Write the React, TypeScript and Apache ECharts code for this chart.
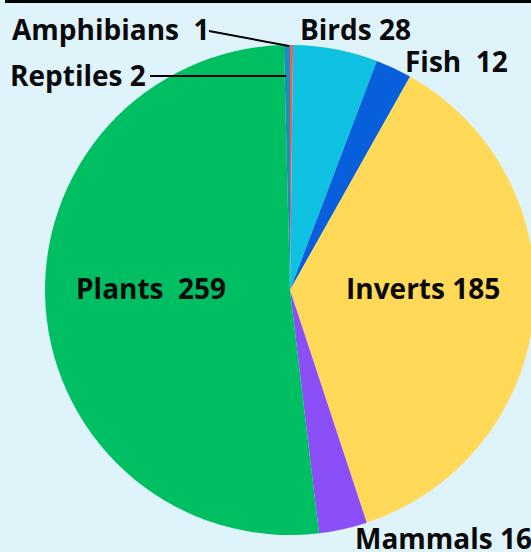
import React, { useEffect, useRef } from "react";
import * as echarts from "echarts";

const categories = ["Amphibians", "Birds", "Fish", "Inverts", "Mammals", "Plants", "Reptiles"];
const counts = [1, 28, 12, 185, 16, 259, 2];
const sliceColors = ["#f4575c", "#0fc1e1", "#075fdb", "#ffd957", "#8b4ffa", "#00bf63", "#1890b3"];
const nameValueGaps = ["  ", " ", "  ", " ", " ", "  ", " "];

// label placement (left edge x, vertical middle y) and leader lines
const labelSpots: { x: number; y: number }[] = [
  { x: 12, y: 29 },
  { x: 300, y: 29 },
  { x: 405, y: 61 },
  { x: 346, y: 288 },
  { x: 355, y: 538 },
  { x: 76, y: 288 },
  { x: 10, y: 75 },
];
const leaderLines: number[][][] = [
  [[209, 31], [289, 46]],
  [[150, 76], [286, 76]],
];

export default function App() {
  const ref = useRef<HTMLDivElement>(null);
  useEffect(() => {
    if (!ref.current) return;
    const chart = echarts.init(ref.current, undefined, { renderer: "svg" });
    chart.setOption({
      animation: false,
      backgroundColor: "#dff3fb",
      graphic: [
        { type: "rect", left: 5, top: 0, z: 100, shape: { width: 526, height: 3 }, style: { fill: "#000" } },
        ...leaderLines.map((pts) => ({
          type: "polyline",
          z: 100,
          shape: { points: pts },
          style: { stroke: "#000", lineWidth: 2, fill: null },
        })),
      ],
      series: [
        {
          type: "pie",
          center: [290, 290],
          radius: 245,
          startAngle: 90,
          clockwise: true,
          avoidLabelOverlap: false,
          silent: true,
          labelLine: { show: false },
          data: categories.map((name, i) => ({
            name,
            value: counts[i],
            itemStyle: { color: sliceColors[i] },
          })),
          label: {
            show: true,
            position: "outside",
            formatter: (p: any) => `${p.name}${nameValueGaps[p.dataIndex]}${p.value}`,
            fontFamily: "Open Sans",
            fontWeight: "bold",
            fontSize: 28,
            color: "#0a0a0a",
          },
          labelLayout: (p: any) => {
            const s = labelSpots[p.dataIndex];
            return { x: s.x, y: s.y, align: "left", verticalAlign: "middle", hideOverlap: false };
          },
        },
      ],
    });
    return () => chart.dispose();
  }, []);
  return (
    <div
      ref={ref}
      style={{ position: "fixed", left: 0, top: 0, width: 531, height: 552 }}
    />
  );
}
